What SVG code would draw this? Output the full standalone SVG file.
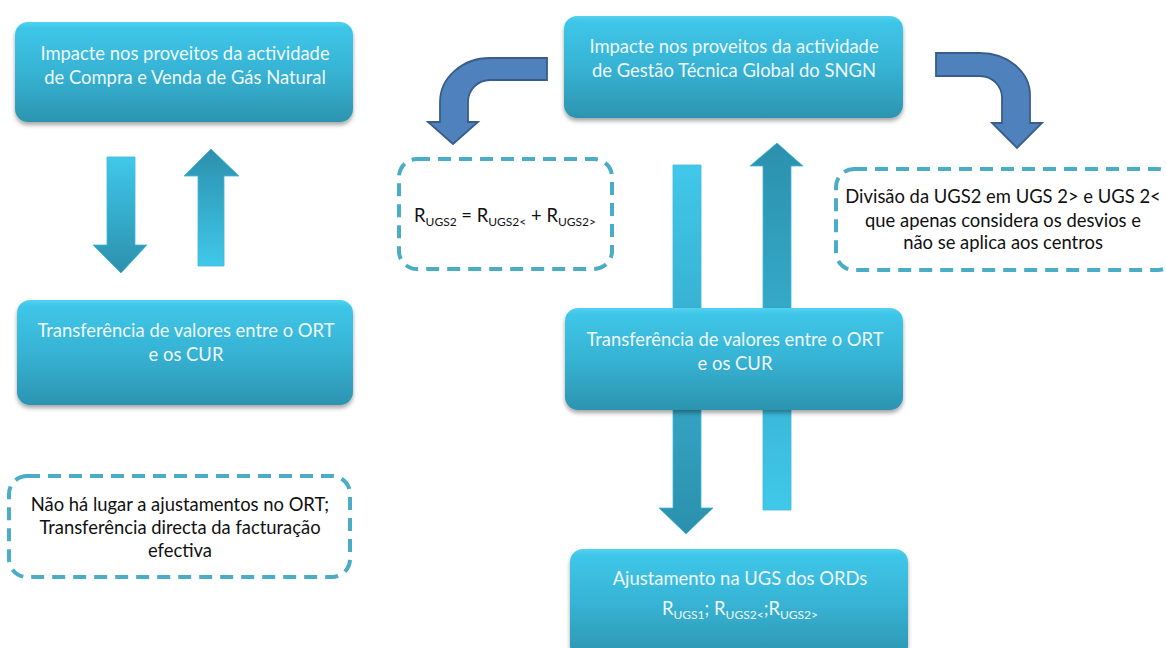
<svg xmlns="http://www.w3.org/2000/svg" width="1166" height="648" viewBox="0 0 1166 648">
<defs>
<linearGradient id="boxGrad" x1="0" y1="0" x2="0" y2="1">
<stop offset="0" stop-color="#52d2f0"/>
<stop offset="0.06" stop-color="#3ec6e8"/>
<stop offset="0.5" stop-color="#37b3d4"/>
<stop offset="1" stop-color="#2c94b0"/>
</linearGradient>
<linearGradient id="downGrad" x1="0" y1="0" x2="0" y2="1">
<stop offset="0" stop-color="#40c8ea"/>
<stop offset="1" stop-color="#2b90ad"/>
</linearGradient>
<linearGradient id="upGrad" x1="0" y1="1" x2="0" y2="0">
<stop offset="0" stop-color="#40c8ea"/>
<stop offset="1" stop-color="#2b90ad"/>
</linearGradient>
<filter id="shadow" x="-5%" y="-10%" width="110%" height="125%">
<feDropShadow dx="0" dy="3" stdDeviation="2" flood-color="#000" flood-opacity="0.35"/>
</filter>
</defs>
<style>
.box{fill:url(#boxGrad);filter:url(#shadow);}
.wt{font-family:Lato,"Liberation Sans",sans-serif;font-size:18.4px;fill:#eef8fc;text-anchor:middle;}
.bt{font-family:Lato,"Liberation Sans",sans-serif;font-size:18.4px;fill:#111;text-anchor:middle;}
.dash{fill:none;stroke:#4bacc6;stroke-width:4;stroke-dasharray:13 8;}
.down{fill:url(#downGrad);stroke:#3fb8d8;stroke-width:0.8;}
.up{fill:url(#upGrad);stroke:#3fb8d8;stroke-width:0.8;}
.curve{fill:#4f81bd;stroke:#385d8a;stroke-width:1.8;}
.sub{font-size:12px;}
</style>

<g id="connectors">
<path class="down" d="M107,157 H135 V245 H147 L121,273 L93,245 H107 Z"/>
<path class="up" d="M198,266 V176 H184 L211,149 L239,176 H224 V266 Z"/>
<path class="down" d="M673,165 H701 V508 H713 L686,534 L659,508 H673 Z"/>
<path class="up" d="M763,510 V166 H750 L777,143 L803,166 H791 V510 Z"/>
<path class="curve" d="M547,58 H490 A50,44 0 0 0 440,102 V122 H428 L453,144 L478,122 H468 V102 A22,22 0 0 1 490,80 H547 Z"/>
<path class="curve" d="M936,53 H980 A50,42 0 0 1 1030,95 V123 H1042 L1017,148 L992,123 H1002 V98 A22,22 0 0 0 980,76 H936 Z"/>
</g>

<g id="node-compra-venda">
<rect class="box" x="15" y="22" width="338" height="100" rx="13"/>
<text class="wt" x="185" y="60">Impacte nos proveitos da actividade</text>
<text class="wt" x="185" y="84">de Compra e Venda de Gás Natural</text>
</g>

<g id="node-gestao-tecnica">
<rect class="box" x="564" y="16" width="339" height="102" rx="13"/>
<text class="wt" x="734" y="53">Impacte nos proveitos da actividade</text>
<text class="wt" x="734" y="77">de Gestão Técnica Global do SNGN</text>
</g>

<g id="node-transf-left">
<rect class="box" x="17" y="300" width="336" height="105" rx="13"/>
<text class="wt" x="186" y="337">Transferência de valores entre o ORT</text>
<text class="wt" x="186" y="361">e os CUR</text>
</g>

<g id="node-transf-right">
<rect class="box" x="565" y="308" width="338" height="102" rx="13"/>
<text class="wt" x="735" y="346">Transferência de valores entre o ORT</text>
<text class="wt" x="735" y="370">e os CUR</text>
</g>

<g id="node-ajustamento">
<rect class="box" x="570" y="549" width="338" height="110" rx="13"/>
<text class="wt" x="740" y="585">Ajustamento na UGS dos ORDs</text>
<text class="wt" x="740" y="615">R<tspan class="sub" dy="4">UGS1</tspan><tspan dy="-4">; R</tspan><tspan class="sub" dy="4">UGS2&lt;</tspan><tspan dy="-4">;R</tspan><tspan class="sub" dy="4">UGS2&gt;</tspan></text>
</g>

<g id="note-ort">
<rect class="dash" x="9" y="476" width="341" height="101" rx="18"/>
<text class="bt" x="180" y="511">Não há lugar a ajustamentos no ORT;</text>
<text class="bt" x="180" y="534">Transferência directa da facturação</text>
<text class="bt" x="180" y="557">efectiva</text>
</g>

<g id="note-rugs2">
<rect class="dash" x="399" y="159" width="213" height="110" rx="18"/>
<text class="bt" x="505" y="222">R<tspan class="sub" dy="4">UGS2</tspan><tspan dy="-4"> = R</tspan><tspan class="sub" dy="4">UGS2&lt;</tspan><tspan dy="-4"> + R</tspan><tspan class="sub" dy="4">UGS2&gt;</tspan></text>
</g>

<g id="note-divisao">
<rect class="dash" x="836" y="169" width="340" height="101" rx="18"/>
<text class="bt" x="1003" y="203">Divisão da UGS2 em UGS 2&gt; e UGS 2&lt;</text>
<text class="bt" x="1003" y="227">que apenas considera os desvios e</text>
<text class="bt" x="1003" y="249">não se aplica aos centros</text>
</g>
</svg>
